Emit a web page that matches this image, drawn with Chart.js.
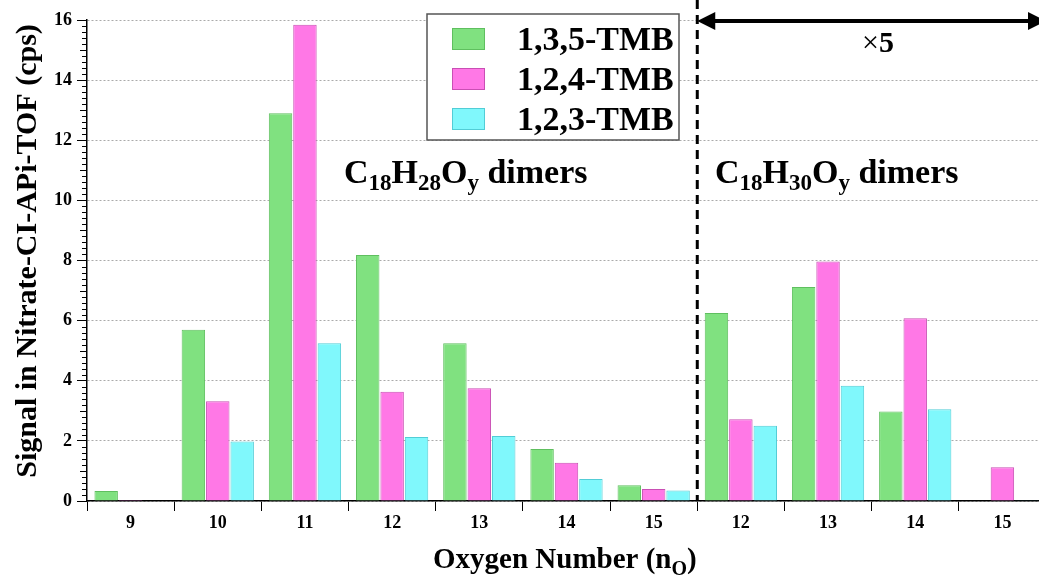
<!DOCTYPE html>
<html lang="en">
<head>
  <meta charset="UTF-8">
  <title>C18 dimers by oxygen number</title>
  <script src="https://cdn.jsdelivr.net/npm/chart.js"></script>
  <style>
    html, body { margin: 0; padding: 0; overflow: hidden; background: #fff; }
    #wrap { width: 1048px; height: 577px; }
  </style>
</head>
<body>
  <div id="wrap"><canvas id="barChart" width="1048" height="577"></canvas></div>

  <script>
    // Oxygen numbers: first 7 are C18H28Oy, last 4 are C18H30Oy (x5)
    const oxygenNumbers = ['9', '10', '11', '12', '13', '14', '15', '12', '13', '14', '15'];
    const tmb135 = [0.33, 5.70, 12.90, 8.18, 5.25, 1.73, 0.52, 6.25, 7.12, 2.98, 0.02];
    const tmb124 = [0.03, 3.32, 15.84, 3.63, 3.75, 1.27, 0.40, 2.72, 7.97, 6.08, 1.12];
    const tmb123 = [0.02, 1.98, 5.25, 2.13, 2.16, 0.73, 0.35, 2.50, 3.83, 3.05, 0.01];
    const seriesNames = ['1,3,5-TMB', '1,2,4-TMB', '1,2,3-TMB'];

    const SERIF = "'Liberation Serif', 'Times New Roman', serif";

    // draw text pieces with subscripts, left to right
    function drawRich(ctx, parts, x, y) {
      parts.forEach(p => {
        ctx.font = (p.normal ? '' : 'bold ') + p.size + 'px ' + SERIF;
        ctx.fillText(p.t, x, y + (p.dy || 0));
        x += ctx.measureText(p.t).width;
      });
    }

    const decorPlugin = {
      id: 'decor',
      afterDraw(chart) {
        const ctx = chart.ctx;
        const area = chart.chartArea;
        const xs = chart.scales.x;
        const ys = chart.scales.y;
        ctx.save();
        ctx.fillStyle = '#000';
        ctx.strokeStyle = '#000';
        ctx.textBaseline = 'alphabetic';
        ctx.textAlign = 'left';

        // minor ticks on the y axis
        ctx.lineWidth = 1;
        for (let i = 1; i < 80; i++) {
          if (i % 10 === 0) continue;
          const yy = Math.round(ys.getPixelForValue(i * 0.2)) + 0.5;
          const len = (i % 5 === 0) ? 7 : 5;
          ctx.beginPath();
          ctx.moveTo(area.left - len, yy);
          ctx.lineTo(area.left, yy);
          ctx.stroke();
        }

        // dashed separator between the two groups
        const sepX = (xs.getPixelForValue(6) + xs.getPixelForValue(7)) / 2;
        ctx.lineWidth = 3;
        ctx.setLineDash([9, 6]);
        ctx.beginPath();
        ctx.moveTo(sepX, 0);
        ctx.lineTo(sepX, area.bottom);
        ctx.stroke();
        ctx.setLineDash([]);

        // double arrow over the x5 region
        const ay = 21;
        const right = area.right;
        ctx.lineWidth = 4;
        ctx.beginPath();
        ctx.moveTo(sepX + 10, ay);
        ctx.lineTo(right - 10, ay);
        ctx.stroke();
        ctx.beginPath();
        ctx.moveTo(sepX, ay);
        ctx.lineTo(sepX + 18, ay - 9);
        ctx.lineTo(sepX + 18, ay + 9);
        ctx.closePath();
        ctx.fill();
        ctx.beginPath();
        ctx.moveTo(right, ay);
        ctx.lineTo(right - 18, ay - 9);
        ctx.lineTo(right - 18, ay + 9);
        ctx.closePath();
        ctx.fill();

        // x5 label
        ctx.font = '30px ' + SERIF;
        const wTimes = ctx.measureText('\u00d7').width;
        ctx.font = 'bold 30px ' + SERIF;
        const wFive = ctx.measureText('5').width;
        const cx = 878;
        drawRich(ctx, [{ t: '\u00d7', size: 30, normal: true }, { t: '5', size: 30 }],
          cx - (wTimes + wFive) / 2, 52);

        // group labels
        const formula = (h) => [
          { t: 'C', size: 34 }, { t: '18', size: 23, dy: 7 },
          { t: 'H', size: 34 }, { t: h, size: 23, dy: 7 },
          { t: 'O', size: 34 }, { t: 'y', size: 23, dy: 7 },
          { t: ' dimers', size: 34 }
        ];
        drawRich(ctx, formula('28'), 344, 183);
        drawRich(ctx, formula('30'), 715, 183);

        // legend box
        ctx.fillStyle = '#fff';
        ctx.fillRect(427, 14, 252, 126);
        ctx.strokeStyle = '#555';
        ctx.lineWidth = 1.5;
        ctx.strokeRect(427, 14, 252, 126);
        chart.data.datasets.forEach((ds, i) => {
          const top = 28 + i * 40;
          ctx.fillStyle = ds.backgroundColor;
          ctx.fillRect(452, top, 33, 22);
          ctx.strokeStyle = ds.borderColor;
          ctx.lineWidth = 1;
          ctx.strokeRect(452.5, top + 0.5, 32, 21);
          ctx.fillStyle = '#000';
          ctx.font = 'bold 34px ' + SERIF;
          ctx.fillText(ds.label, 517, top + 22);
        });

        // axis titles
        ctx.fillStyle = '#000';
        ctx.font = 'bold 30px ' + SERIF;
        ctx.save();
        ctx.translate(36, 251);
        ctx.rotate(-Math.PI / 2);
        ctx.textAlign = 'center';
        ctx.fillText('Signal in Nitrate-CI-APi-TOF (cps)', 0, 0);
        ctx.restore();

        drawRich(ctx, [
          { t: 'Oxygen Number (n', size: 29 },
          { t: 'O', size: 20, dy: 7 },
          { t: ')', size: 29 }
        ], 433, 568);

        ctx.restore();
      }
    };

    const ctx = document.getElementById('barChart').getContext('2d');
    new Chart(ctx, {
      type: 'bar',
      data: {
        labels: oxygenNumbers,
        datasets: [
          { label: seriesNames[0], data: tmb135, backgroundColor: '#80e180', borderColor: '#5fbf5f', borderWidth: 1 },
          { label: seriesNames[1], data: tmb124, backgroundColor: '#ff78e6', borderColor: '#c94fb4', borderWidth: 1 },
          { label: seriesNames[2], data: tmb123, backgroundColor: '#80f8fc', borderColor: '#52cdd6', borderWidth: 1 }
        ]
      },
      options: {
        responsive: false,
        animation: false,
        layout: { padding: { top: 20, right: 2, left: 0, bottom: 0 } },
        datasets: {
          bar: { categoryPercentage: 0.84, barPercentage: 0.96 }
        },
        plugins: {
          legend: { display: false },
          tooltip: { enabled: false }
        },
        scales: {
          x: {
            offset: true,
            grid: {
              offset: true,
              drawOnChartArea: false,
              tickLength: 10,
              tickColor: '#000',
              lineWidth: 1
            },
            border: { color: '#000', width: 1.5 },
            ticks: {
              color: '#000',
              padding: 2,
              maxRotation: 0,
              autoSkip: false,
              font: { family: SERIF, size: 18, weight: 'bold' }
            },
            afterFit(scale) { scale.height = 76; }
          },
          y: {
            min: 0,
            max: 16,
            ticks: {
              stepSize: 2,
              color: '#000',
              padding: 5,
              font: { family: SERIF, size: 18, weight: 'bold' }
            },
            grid: {
              color: '#aaa',
              tickColor: '#000',
              tickLength: 10,
              tickBorderDash: [],
              lineWidth: 1
            },
            border: { color: '#000', width: 1.5, dash: [2, 2] },
            afterFit(scale) { scale.width = 87; }
          }
        }
      },
      plugins: [decorPlugin]
    });
  </script>
</body>
</html>
